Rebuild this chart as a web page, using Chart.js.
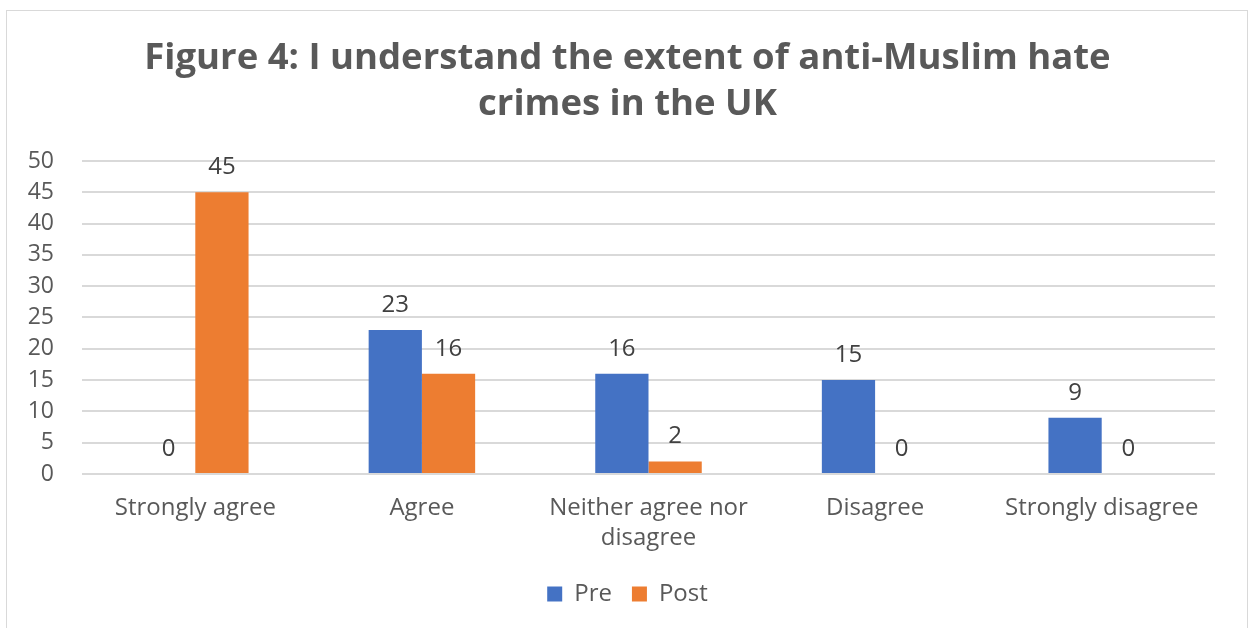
<!DOCTYPE html>
<html>
<head>
<meta charset="utf-8">
<script src="https://cdn.jsdelivr.net/npm/chart.js@4/dist/chart.umd.min.js"></script>
<style>
  html, body { margin: 0; padding: 0; background: #fff; }
  #wrap { position: absolute; left: 0; top: 0; width: 1255px; height: 628px; }
  #frame { position: absolute; left: 6px; top: 10px; width: 1242px; height: 640px; border: 1px solid #d9d9d9; box-sizing: border-box; }
</style>
</head>
<body>
<div id="frame"></div>
<div id="wrap"><canvas id="barChart" width="1255" height="628"></canvas></div>
<script>
var categories = ["Strongly agree", "Agree", ["Neither agree nor", "disagree"], "Disagree", "Strongly disagree"];
var preValues = [0, 23, 16, 15, 9];
var postValues = [45, 16, 2, 0, 0];
var yTicks = [0, 5, 10, 15, 20, 25, 30, 35, 40, 45, 50];

var fontName = "'Open Sans', 'DejaVu Sans', sans-serif";

// writes each bar's value just above it
var valueLabels = {
  id: 'valueLabels',
  afterDatasetsDraw: function(chart) {
    var ctx = chart.ctx;
    ctx.save();
    ctx.font = '24px ' + fontName;
    ctx.fillStyle = '#404040';
    ctx.textAlign = 'center';
    ctx.textBaseline = 'middle';
    chart.data.datasets.forEach(function(ds, i) {
      chart.getDatasetMeta(i).data.forEach(function(bar, j) {
        ctx.fillText(ds.data[j], bar.x, bar.y - 25);
      });
    });
    ctx.restore();
  }
};

var ctx = document.getElementById("barChart").getContext('2d');
var myChart = new Chart(ctx, {
  type: 'bar',
  data: {
    labels: categories,
    datasets: [{
      label: 'Pre',
      data: preValues,
      backgroundColor: "#4472c4"
    }, {
      label: 'Post',
      data: postValues,
      backgroundColor: "#ed7d31"
    }]
  },
  options: {
    responsive: false,
    animation: false,
    categoryPercentage: 0.47,
    barPercentage: 1.0,
    layout: { padding: { left: 22, right: 22, top: 0, bottom: 12 } },
    scales: {
      x: {
        grid: { display: false, drawTicks: false },
        border: { display: false },
        afterFit: function(scale) { scale.height = 88; },
        ticks: { color: '#595959', font: { family: fontName, size: 24, lineHeight: 1.25 }, padding: 19, maxRotation: 0, autoSkip: false }
      },
      y: {
        min: 0,
        max: 50,
        afterBuildTicks: function(scale) {
          scale.ticks = yTicks.map(function(v) { return { value: v }; });
        },
        afterFit: function(scale) { scale.width = 60; },
        grid: { color: '#d9d9d9', lineWidth: 2, drawTicks: false },
        border: { display: false },
        ticks: { color: '#595959', font: { family: fontName, size: 23 }, padding: 28 }
      },
      // empty strip on the right so the plot ends short of the frame
      spacer: {
        type: 'linear',
        position: 'right',
        afterFit: function(scale) { scale.width = 18; },
        grid: { display: false },
        border: { display: false },
        ticks: { display: false }
      }
    },
    plugins: {
      title: {
        display: true,
        text: ["Figure 4: I understand the extent of anti-Muslim hate", "crimes in the UK"],
        color: '#595959',
        font: { family: fontName, size: 36.5, weight: 'bold', lineHeight: 1.26 },
        padding: { top: 36, bottom: 33 }
      },
      legend: {
        position: 'bottom',
        labels: { color: '#595959', font: { family: fontName, size: 24 }, boxWidth: 15, boxHeight: 15, padding: 20 }
      },
      tooltip: { enabled: false }
    }
  },
  plugins: [valueLabels]
});
</script>
</body>
</html>
